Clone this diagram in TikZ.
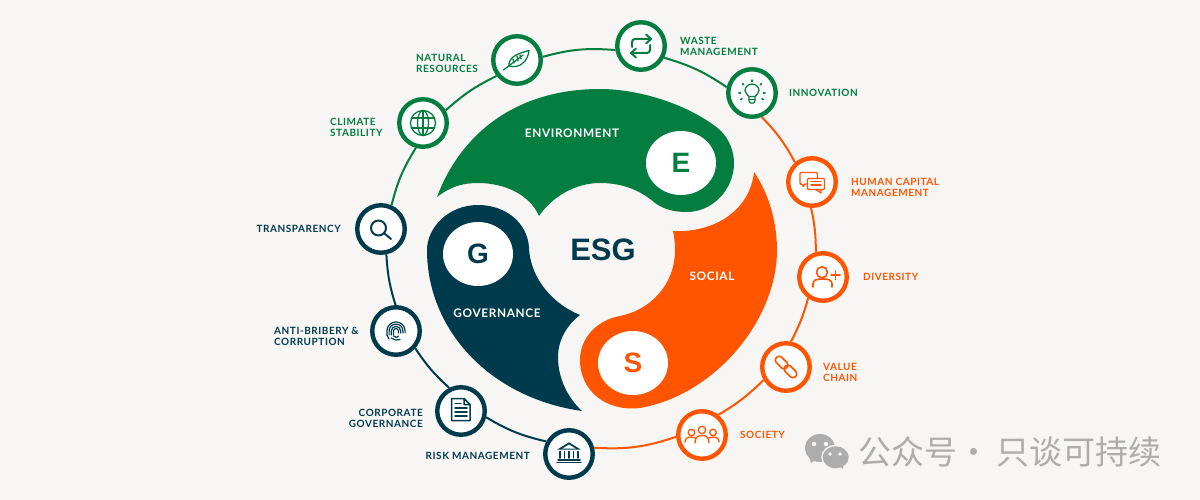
\documentclass[tikz,border=0pt]{standalone}
\usepackage{fontspec}
\setmainfont{Liberation Sans}
\newfontfamily\labfont[LetterSpace=5.5]{Lato}
\newfontfamily\cjk{Noto Sans CJK SC}
\usetikzlibrary{shapes}
\definecolor{paper}{HTML}{F7F6F4}
\definecolor{envgreen}{HTML}{047D40}
\definecolor{socorange}{HTML}{FF5500}
\definecolor{govnavy}{HTML}{003B4D}
\definecolor{markgrey}{HTML}{ADADAD}
\tikzset{
    ringnode/.style={circle,draw=#1,fill=white,line width=4.4,minimum size=47.5,inner sep=0},
    lab/.style={font=\labfont\bfseries\fontsize{10}{11}\selectfont,align=left,inner sep=0},
    blobtitle/.style={font=\labfont\bfseries\fontsize{11.8}{13}\selectfont,text=white,inner sep=0},
    letterspot/.style={ellipse,fill=white,minimum width=70,minimum height=64,inner sep=0,font=\bfseries\fontsize{28}{30}\selectfont},
    link/.style={line width=2},
    icon/.style={line width=1.3,line cap=round,line join=round}
}
\begin{document}
\begin{tikzpicture}[x=1pt,y=-1pt]
    \useasboundingbox (0,0) rectangle (1200,500);
    \fill[paper] (0,0) rectangle (1200,500);

    % three blobs
    \fill[envgreen] (437,197) .. controls (458,140) and (510,89) .. (600,89)
        .. controls (640,89) and (690,105) .. (720,130)
        .. controls (730,140) and (734,152) .. (734,163)
        .. controls (734,190) and (712,212) .. (687,212)
        .. controls (675,212) and (665,210) .. (655,203)
        .. controls (640,190) and (622,183) .. (600,183)
        .. controls (575,183) and (552,197) .. (539,216)
        .. controls (530,195) and (505,183) .. (478,183)
        .. controls (462,183) and (450,187) .. (437,197) -- cycle;
    \fill[govnavy] (580,315) .. controls (555,305) and (530,280) .. (529,247)
        .. controls (527,222) and (505,205) .. (478,205)
        .. controls (448,205) and (427,228) .. (427,250)
        .. controls (427,330) and (490,398) .. (582,411)
        .. controls (565,395) and (558,375) .. (558,357)
        .. controls (558,340) and (567,325) .. (580,315) -- cycle;
    \fill[socorange] (754,172) .. controls (770,195) and (777,225) .. (777,250)
        .. controls (777,320) and (715,395) .. (640,408)
        .. controls (605,412) and (580,390) .. (580,360)
        .. controls (580,338) and (597,320) .. (620,316)
        .. controls (650,310) and (675,285) .. (675,250)
        .. controls (675,242) and (674,236) .. (673,231)
        .. controls (715,233) and (750,210) .. (754,172) -- cycle;

    \node[letterspot,text=envgreen] (e) at (681,163) {E};
    \node[letterspot,text=govnavy] (g) at (478,254) {G};
    \node[letterspot,text=socorange] (s) at (633,363) {S};
    \node[blobtitle] (envtitle) at (572,133) {ENVIRONMENT};
    \node[blobtitle] (govtitle) at (497,313.5) {GOVERNANCE};
    \node[blobtitle] (soctitle) at (712,276) {SOCIAL};
    \node[font=\bfseries\fontsize{31}{33}\selectfont,text=govnavy,inner sep=0] (esg) at (603,249.5) {ESG};

    % outer ring
    \node[ringnode=govnavy] (transparency) at (381,229) {};
    \node[ringnode=envgreen] (climate) at (423,123) {};
    \node[ringnode=envgreen] (natural) at (517,60) {};
    \node[ringnode=envgreen] (waste) at (641,46) {};
    \node[ringnode=envgreen] (innovation) at (752,93) {};
    \node[ringnode=socorange] (human) at (812,182) {};
    \node[ringnode=socorange] (diversity) at (823,277) {};
    \node[ringnode=socorange] (value) at (786,367) {};
    \node[ringnode=socorange] (society) at (702,435) {};
    \node[ringnode=govnavy] (risk) at (569,454) {};
    \node[ringnode=govnavy] (corporate) at (461,411) {};
    \node[ringnode=govnavy] (anti) at (396,331) {};

    \draw[link,envgreen] (transparency.66) to[bend left=9] (climate.-106);
    \draw[link,envgreen] (climate.29) to[bend left=8] (natural.-142);
    \draw[link,envgreen] (natural.7) to[bend left=10] (waste.-171);
    \draw[link,envgreen] (waste.-27) to[bend left=9] (innovation.167);
    \draw[link,socorange] (innovation.-68) to[bend left=8] (human.131);
    \draw[link,socorange] (human.-92) to[bend left=6] (diversity.106);
    \draw[link,socorange] (diversity.-125) to[bend left=6] (value.79);
    \draw[link,socorange] (value.-150) to[bend left=7] (society.51);
    \draw[link,socorange] (society.-176) to[bend left=11] (risk.14);
    \draw[link,govnavy] (risk.151) to[bend left=9] (corporate.-14);
    \draw[link,govnavy] (corporate.117) to[bend left=7] (anti.-42);
    \draw[link,govnavy] (anti.91) to[bend left=7] (transparency.-78);

    % ring labels
    \node[lab,text=envgreen,anchor=west] (naturallab) at (416,63) {NATURAL\\RESOURCES};
    \node[lab,text=envgreen,anchor=west] (climatelab) at (330,127) {CLIMATE\\STABILITY};
    \node[lab,text=envgreen,anchor=west] (wastelab) at (680,46.5) {WASTE\\MANAGEMENT};
    \node[lab,text=envgreen,anchor=west] (innovationlab) at (789,92.5) {INNOVATION};
    \node[lab,text=socorange,anchor=west] (humanlab) at (851,187) {HUMAN CAPITAL\\MANAGEMENT};
    \node[lab,text=socorange,anchor=west] (diversitylab) at (863,277) {DIVERSITY};
    \node[lab,text=socorange,anchor=west] (valuelab) at (823,372) {VALUE\\CHAIN};
    \node[lab,text=socorange,anchor=west] (societylab) at (740,434.5) {SOCIETY};
    \node[lab,text=govnavy,anchor=east] (transparencylab) at (341,228.5) {TRANSPARENCY};
    \node[lab,text=govnavy,anchor=west] (antilab) at (274,336) {ANTI-BRIBERY \&\\CORRUPTION};
    \node[lab,text=govnavy,anchor=east,align=right] (corporatelab) at (423,418) {CORPORATE\\GOVERNANCE};
    \node[lab,text=govnavy,anchor=east] (risklab) at (530,455.5) {RISK MANAGEMENT};

    % icons
    \begin{scope}[shift={(natural)},envgreen,icon]
        \draw (-8,6) .. controls (-9,-3) and (2,-7) .. (12,-9.5) .. controls (11,1) and (3,9) .. (-8,6) -- cycle;
        \draw (-13.5,10) -- (6,-5);
        \draw (-4,-1) -- (-3,3);
        \draw (0,-4) -- (1,1);
        \draw (3,-5) -- (4,-1);
    \end{scope}
    \begin{scope}[shift={(climate)},envgreen,icon]
        \draw (0,0) circle[radius=12.5];
        \draw (0,0) ellipse[x radius=5.5,y radius=12.5];
        \draw (0,-12.5) -- (0,12.5);
        \draw (-11.5,-5) -- (11.5,-5);
        \draw (-11.5,5) -- (11.5,5);
    \end{scope}
    \begin{scope}[shift={(transparency)},govnavy,icon,line width=2]
        \draw (-2.5,-1) circle[radius=7.5];
        \draw (3.5,4.5) -- (10,10);
    \end{scope}
    \begin{scope}[shift={(waste)},envgreen,icon,line width=2]
        \draw[rounded corners=3] (-9,1) -- (-9,-7) -- (9,-7);
        \draw (5,-11.5) -- (10,-7) -- (5,-2.5);
        \draw[rounded corners=3] (9,-1) -- (9,7) -- (-9,7);
        \draw (-5,2.5) -- (-10,7) -- (-5,11.5);
    \end{scope}
    \begin{scope}[shift={(innovation)},envgreen,icon]
        \draw (-3,3.5) .. controls (-4.5,1.5) and (-7,0) .. (-7,-2.5) .. controls (-7,-6) and (-3.5,-9) .. (0,-9)
            .. controls (3.5,-9) and (7,-6) .. (7,-2.5) .. controls (7,0) and (4.5,1.5) .. (3,3.5) -- cycle;
        \draw (-3,3.5) -- (-3,8) -- (-1.5,10) -- (1.5,10) -- (3,8) -- (3,3.5);
        \draw (-3,6.5) -- (3,6.5);
        \foreach \ang in {-135,-90,-45,180,0,150,30} {
            \draw[line width=1.6] (\ang:11.5) -- (\ang:13);
        }
    \end{scope}
    \begin{scope}[shift={(human)},socorange,icon]
        \draw[rounded corners=1] (-5,2) -- (-8,2) -- (-8,5) -- (-10.5,2) -- (-12,2) -- (-12,-9.5) -- (5.5,-9.5) -- (5.5,-4);
        \draw[rounded corners=1] (-4.5,-3.5) rectangle (12.5,7.5);
        \draw (4,7.5) -- (9,11) -- (9,7.5);
        \draw (-1,-0.5) -- (9,-0.5);
        \draw (-1,3) -- (9,3);
    \end{scope}
    \begin{scope}[shift={(diversity)},socorange,icon,line width=1.6]
        \draw (-1,-4.7) circle[radius=5.5];
        \draw (-10,10) -- (-10,7) .. controls (-10,3) and (-6,2) .. (-3,2) -- (1,2) .. controls (5,2) and (9,3) .. (9,7) -- (9,10);
        \draw[line width=1.8] (12.5,-6) -- (12.5,2.5);
        \draw[line width=1.8] (8,-1.7) -- (17,-1.7);
    \end{scope}
    \begin{scope}[shift={(value)},socorange,icon,line width=1.6]
        \draw[rotate=-45,rounded corners=3.5] (-13.5,-3.8) rectangle (1,3.8);
        \draw[rotate=-45,rounded corners=3.5] (-1,-3.8) rectangle (13.5,3.8);
    \end{scope}
    \begin{scope}[shift={(society)},socorange,icon]
        \draw (-10.5,-2.5) circle[radius=3.3];
        \draw (0,-5) circle[radius=3.7];
        \draw (11,-2.5) circle[radius=3.3];
        \draw (-17,7) .. controls (-17,3) and (-14,2) .. (-10.5,2) .. controls (-9,2) and (-8,2.3) .. (-6.5,3);
        \draw (6.5,3) .. controls (8,2.3) and (9.5,2) .. (11,2) .. controls (14,2) and (17,3) .. (17,7);
        \draw (-7,8) .. controls (-7,2) and (-4,0.5) .. (0,0.5) .. controls (4,0.5) and (7,2) .. (7,8);
    \end{scope}
    \begin{scope}[shift={(risk)},govnavy,icon]
        \fill (-11.7,-4.5) -- (0,-11.7) -- (11.7,-4.5) -- cycle;
        \fill[white] (-6.5,-5.5) -- (0,-9.5) -- (6.5,-5.5) -- cycle;
        \foreach \cx in {-9,-4.5,0,4.5,9} {
            \draw[line width=1.5] (\cx,-2.5) -- (\cx,4);
        }
        \draw[line width=1.5] (-11,5.8) -- (11,5.8);
        \draw[line width=1.5] (-12,8.7) -- (12,8.7);
    \end{scope}
    \begin{scope}[shift={(corporate)},govnavy,icon,line width=1.5]
        \draw (3,-12.5) -- (-9.3,-12.5) -- (-9.3,9.5) -- (9,9.5) -- (9,-6.5) -- (3,-12.5) -- (3,-6.5) -- (9,-6.5);
        \draw (-6,-7.5) -- (0,-7.5);
        \draw (-6,-3) -- (6,-3);
        \draw (-6,1) -- (6,1);
        \draw (-6,5) -- (6,5);
    \end{scope}
    \begin{scope}[shift={(anti)},govnavy,icon,line width=1.2]
        \foreach \rr in {2.5,4.7,6.9,9.1} {
            \draw (-\rr,4) -- (-\rr,0) arc[start angle=180,end angle=360,radius=\rr] -- (\rr,2);
        }
        \draw (-4.7,7) .. controls (-2,9) and (1,10) .. (4,8.5);
        \draw (-2.5,5) .. controls (-1,7) and (2,7) .. (2.5,5);
        \draw (-9.1,4) -- (-7,8);
    \end{scope}

    % watermark
    \fill[markgrey] (820,448) ellipse[x radius=15,y radius=14];
    \fill[markgrey] (809,455) -- (811,463) -- (817,459) -- cycle;
    \fill[paper] (835.7,457.3) ellipse[x radius=14.5,y radius=12.5];
    \fill[markgrey] (835.7,457.3) ellipse[x radius=13,y radius=11];
    \fill[markgrey] (838,465) -- (843,469) -- (843,464) -- cycle;
    \foreach \mx/\my/\mr in {814/444/2.2,826/444/2.2,830/454/1.8,840/454/1.8} {
        \fill[paper] (\mx,\my) circle[radius=\mr];
    }
    \node[anchor=west,inner sep=0,text=markgrey,font=\cjk\fontsize{33}{36}\selectfont] (mark) at (858,452) {公众号·\hspace{6pt}只谈可持续};
\end{tikzpicture}
\end{document}
